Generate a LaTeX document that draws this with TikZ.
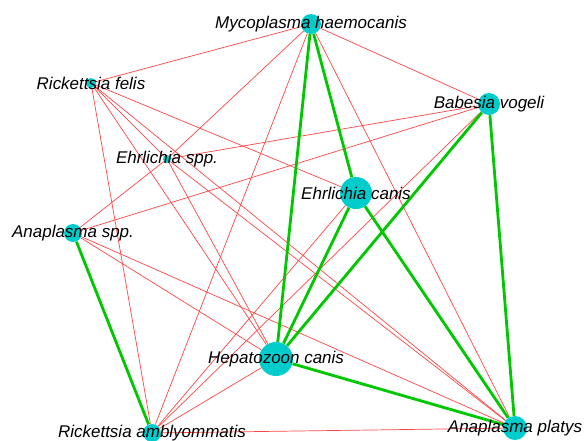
\documentclass[tikz,border=0pt]{standalone}
\usepackage{fontspec}
\setmainfont{Liberation Sans}
\usetikzlibrary{backgrounds}
\definecolor{nodecyan}{RGB}{0,204,204}
\definecolor{linkred}{RGB}{255,70,70}
\definecolor{linkgreen}{RGB}{0,200,0}
\begin{document}
\begin{tikzpicture}[x=0.03cm, y=-0.03cm,
  taxon/.style={circle, fill=nodecyan, inner sep=0pt},
  taxlabel/.style={font=\fontsize{14.5}{17}\selectfont\itshape, inner sep=0pt},
  weak/.style={draw=linkred, line width=0.6pt},
  strong/.style={draw=linkgreen, line width=2.4pt}]
\useasboundingbox (0,0) rectangle (585,440);

\node [taxon, minimum size=0.60cm] (v1) at (311,24) {};
\node [taxon, minimum size=0.30cm] (v2) at (91,83) {};
\node [taxon, minimum size=0.66cm] (v3) at (489,104) {};
\node [taxon, minimum size=0.24cm] (v4) at (167,159) {};
\node [taxon, minimum size=0.96cm] (v5) at (356,193) {};
\node [taxon, minimum size=0.54cm] (v6) at (73,233) {};
\node [taxon, minimum size=1.02cm] (v7) at (276,359) {};
\node [taxon, minimum size=0.54cm] (v8) at (152,433) {};
\node [taxon, minimum size=0.72cm] (v9) at (515,428) {};

\begin{pgfonlayer}{background}
\draw [weak] (v1) edge (v2);
\draw [weak] (v1) edge (v3);
\draw [weak] (v1) edge (v4);
\draw [weak] (v1) edge (v8);
\draw [weak] (v1) edge (v9);
\draw [weak] (v2) edge (v4);
\draw [weak] (v2) edge (v5);
\draw [weak] (v2) edge (v7);
\draw [weak] (v2) edge (v8);
\draw [weak] (v2) edge (v9);
\draw [weak] (v3) edge (v4);
\draw [weak] (v3) edge (v6);
\draw [weak] (v3) edge (v8);
\draw [weak] (v4) edge (v6);
\draw [weak] (v4) edge (v7);
\draw [weak] (v4) edge (v9);
\draw [weak] (v5) edge (v8);
\draw [weak] (v6) edge (v7);
\draw [weak] (v6) edge (v9);
\draw [weak] (v7) edge (v8);
\draw [weak] (v8) edge (v9);

\draw [strong] (v1) edge (v5);
\draw [strong] (v1) edge (v7);
\draw [strong] (v5) edge (v7);
\draw [strong] (v3) edge (v7);
\draw [strong] (v3) edge (v9);
\draw [strong] (v5) edge (v9);
\draw [strong] (v7) edge (v9);
\draw [strong] (v6) edge (v8);
\end{pgfonlayer}

\node [taxlabel] (t1) at (v1) {Mycoplasma haemocanis};
\node [taxlabel] (t2) at (v2) {Rickettsia felis};
\node [taxlabel] (t3) at (v3) {Babesia vogeli};
\node [taxlabel] (t4) at (v4) {Ehrlichia spp.};
\node [taxlabel] (t5) at (v5) {Ehrlichia canis};
\node [taxlabel] (t6) at (v6) {Anaplasma spp.};
\node [taxlabel] (t7) at (v7) {Hepatozoon canis};
\node [taxlabel] (t8) at (v8) {Rickettsia amblyommatis};
\node [taxlabel] (t9) at (v9) {Anaplasma platys};
\end{tikzpicture}
\end{document}
